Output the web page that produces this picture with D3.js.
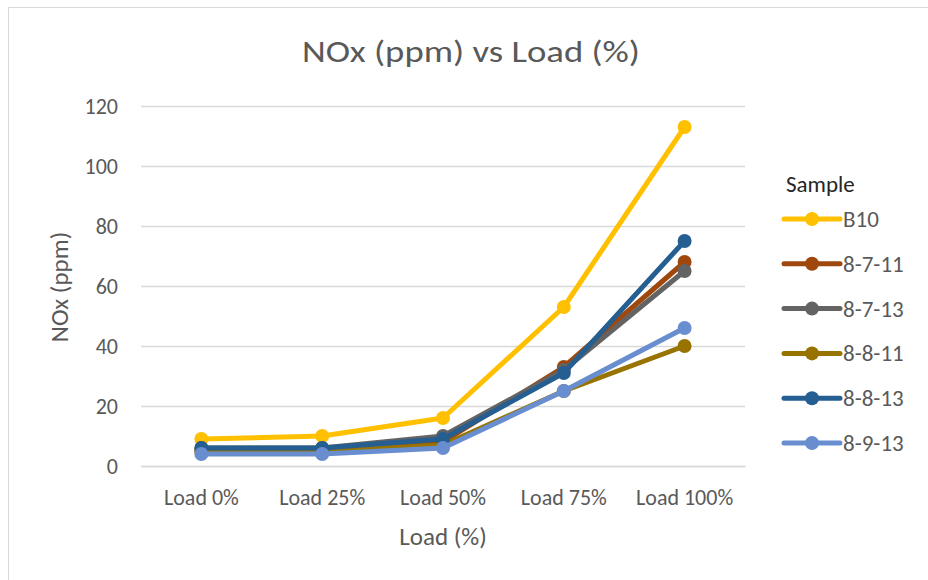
<!DOCTYPE html>
<html>
<head>
<meta charset="utf-8">
<script src="https://cdn.jsdelivr.net/npm/d3@7"></script>
<style>
  html, body { margin: 0; padding: 0; background: #fff; }
  svg { display: block; font-family: Carlito, Calibri, Lato, "Liberation Sans", sans-serif; }
</style>
</head>
<body>
<svg id="chart" width="928" height="580"></svg>
<script>
const categories = ["Load 0%", "Load 25%", "Load 50%", "Load 75%", "Load 100%"];
const seriesNames = ["B10", "8-7-11", "8-7-13", "8-8-11", "8-8-13", "8-9-13"];
const valuesB10   = [9, 10, 16, 53, 113];
const values8711  = [5, 5, 8, 33, 68];
const values8713  = [6, 6, 10, 32, 65];
const values8811  = [5, 5, 7, 25, 40];
const values8813  = [6, 6, 9, 31, 75];
const values8913  = [4, 4, 6, 25, 46];
const seriesColors = ["#FFC000", "#9E480E", "#636363", "#997300", "#255E91", "#698ED0"];
const yTicks = [0, 20, 40, 60, 80, 100, 120];
const titleText = "NOx (ppm) vs Load (%)";
const xTitle = "Load (%)";
const yTitle = "NOx (ppm)";
const legendTitle = "Sample";

const series = [valuesB10, values8711, values8713, values8811, values8813, values8913]
  .map((v, i) => ({ name: seriesNames[i], color: seriesColors[i], values: v }));

const FONT = "Carlito, Calibri, Lato, 'Liberation Sans', sans-serif";
const svg = d3.select("#chart");

// chart border
svg.append("rect").attr("x", 8.5).attr("y", 7.5).attr("width", 940).attr("height", 600)
  .attr("fill", "#fff").attr("stroke", "#d9d9d9").attr("stroke-width", 1);

const plot = { left: 141, right: 745, top: 106, bottom: 466 };

const x = d3.scaleBand().domain(categories).range([plot.left, plot.right]);
const y = d3.scaleLinear().domain([0, 120]).range([plot.bottom, plot.top]);

// title
svg.append("text").attr("x", 471).attr("y", 62).attr("text-anchor", "middle")
  .attr("font-size", 30).attr("fill", "#595959").attr("textLength", 338).attr("lengthAdjust", "spacingAndGlyphs")
  .text(titleText);

// gridlines + y axis
const yAxis = d3.axisLeft(y).tickValues(yTicks).tickSize(-(plot.right - plot.left)).tickPadding(23);
const gy = svg.append("g").attr("transform", `translate(${plot.left},0)`).call(yAxis);
gy.select(".domain").remove();
gy.selectAll(".tick line").attr("stroke", "#d9d9d9").attr("stroke-width", 1.5);
gy.selectAll(".tick text").attr("fill", "#595959").attr("font-size", 22).attr("font-family", FONT);

// x axis
const xAxis = d3.axisBottom(x).tickSize(0).tickPadding(23);
const gx = svg.append("g").attr("transform", `translate(0,${plot.bottom})`).call(xAxis);
gx.select(".domain").attr("stroke", "#d9d9d9").attr("stroke-width", 1.5);
gx.selectAll(".tick text").attr("fill", "#595959").attr("font-size", 22).attr("font-family", FONT);

// axis titles
svg.append("text").attr("x", 443).attr("y", 545).attr("text-anchor", "middle")
  .attr("font-size", 25).attr("fill", "#595959").text(xTitle);
svg.append("text").attr("transform", "translate(68,287) rotate(-90)").attr("text-anchor", "middle")
  .attr("font-size", 25).attr("fill", "#595959").text(yTitle);

// lines
const line = d3.line().x((d, i) => x(categories[i]) + x.bandwidth() / 2).y(d => y(d));
const gs = svg.append("g").selectAll("g").data(series).join("g");
gs.append("path").attr("d", d => line(d.values)).attr("fill", "none")
  .attr("stroke", d => d.color).attr("stroke-width", 5).attr("stroke-linejoin", "round").attr("stroke-linecap", "round");
gs.selectAll("circle").data(d => d.values.map(v => ({ v, c: d.color })))
  .join("circle")
  .attr("cx", (d, i) => x(categories[i]) + x.bandwidth() / 2)
  .attr("cy", d => y(d.v)).attr("r", 7).attr("fill", d => d.c);

// legend
svg.append("text").attr("x", 786).attr("y", 192).attr("font-size", 23).attr("fill", "#262626").text(legendTitle);
const lg = svg.append("g").selectAll("g").data(series).join("g")
  .attr("transform", (d, i) => `translate(784,${219 + i * 44.8})`);
lg.append("line").attr("x1", 0).attr("x2", 56).attr("stroke", d => d.color).attr("stroke-width", 5).attr("stroke-linecap", "round");
lg.append("circle").attr("cx", 28).attr("r", 7).attr("fill", d => d.color);
lg.append("text").attr("x", 59).attr("y", 8).attr("font-size", 23).attr("fill", "#595959").text(d => d.name);
</script>
</body>
</html>
